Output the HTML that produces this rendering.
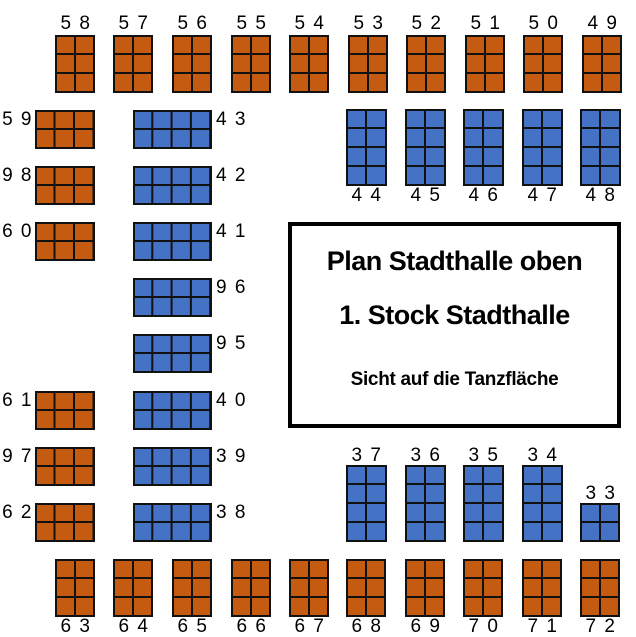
<!DOCTYPE html>
<html><head><meta charset="utf-8"><style>
body{margin:0;width:636px;height:637px;background:#fff;position:relative;overflow:hidden;font-family:"Liberation Sans",sans-serif}
.t{position:absolute;box-sizing:border-box;border:2px solid #111;background-image:linear-gradient(to right,#111 2px,transparent 2px),linear-gradient(to bottom,#111 2px,transparent 2px);background-position:-3px -3px}
.o{background-color:#c55a11}.b{background-color:#4472c4}
.v3{width:40px;height:58px;background-size:20px 19px}
.h3{width:60px;height:39px;background-size:19.5px 19px}
.h4{width:79px;height:39px;background-size:19.3px 19px}
.v4{width:41px;height:77px;background-size:20px 19px}
.s2{width:40px;height:39px;background-size:20px 19px}
.l{position:absolute;font-size:19px;line-height:20px;letter-spacing:1.5px;color:#000;white-space:pre}
.c{width:60px;text-align:center}
.r{width:33px;text-align:right}
#box{position:absolute;left:288px;top:222px;width:333px;height:206px;box-sizing:border-box;border:4px solid #000;text-align:center;font-family:"Liberation Sans",sans-serif;font-weight:bold}
#box div{position:absolute;left:0;right:0}
</style></head><body>
<div class="t o v3" style="left:55px;top:35px"></div><div class="l c" style="left:46px;top:14px">5 8</div>
<div class="t o v3" style="left:113px;top:35px"></div><div class="l c" style="left:104px;top:14px">5 7</div>
<div class="t o v3" style="left:172px;top:35px"></div><div class="l c" style="left:163px;top:14px">5 6</div>
<div class="t o v3" style="left:231px;top:35px"></div><div class="l c" style="left:222px;top:14px">5 5</div>
<div class="t o v3" style="left:289px;top:35px"></div><div class="l c" style="left:280px;top:14px">5 4</div>
<div class="t o v3" style="left:348px;top:35px"></div><div class="l c" style="left:339px;top:14px">5 3</div>
<div class="t o v3" style="left:406px;top:35px"></div><div class="l c" style="left:397px;top:14px">5 2</div>
<div class="t o v3" style="left:465px;top:35px"></div><div class="l c" style="left:456px;top:14px">5 1</div>
<div class="t o v3" style="left:523px;top:35px"></div><div class="l c" style="left:514px;top:14px">5 0</div>
<div class="t o v3" style="left:582px;top:35px"></div><div class="l c" style="left:573px;top:14px">4 9</div>
<div class="t o h3" style="left:35px;top:110px"></div><div class="l r" style="left:0px;top:110px">5 9</div>
<div class="t o h3" style="left:35px;top:166px"></div><div class="l r" style="left:0px;top:166px">9 8</div>
<div class="t o h3" style="left:35px;top:222px"></div><div class="l r" style="left:0px;top:222px">6 0</div>
<div class="t o h3" style="left:35px;top:391px"></div><div class="l r" style="left:0px;top:391px">6 1</div>
<div class="t o h3" style="left:35px;top:447px"></div><div class="l r" style="left:0px;top:447px">9 7</div>
<div class="t o h3" style="left:35px;top:503px"></div><div class="l r" style="left:0px;top:503px">6 2</div>
<div class="t b h4" style="left:133px;top:110px"></div><div class="l" style="left:216px;top:110px">4 3</div>
<div class="t b h4" style="left:133px;top:166px"></div><div class="l" style="left:216px;top:166px">4 2</div>
<div class="t b h4" style="left:133px;top:222px"></div><div class="l" style="left:216px;top:222px">4 1</div>
<div class="t b h4" style="left:133px;top:278px"></div><div class="l" style="left:216px;top:278px">9 6</div>
<div class="t b h4" style="left:133px;top:334px"></div><div class="l" style="left:216px;top:334px">9 5</div>
<div class="t b h4" style="left:133px;top:391px"></div><div class="l" style="left:216px;top:391px">4 0</div>
<div class="t b h4" style="left:133px;top:447px"></div><div class="l" style="left:216px;top:447px">3 9</div>
<div class="t b h4" style="left:133px;top:503px"></div><div class="l" style="left:216px;top:503px">3 8</div>
<div class="t b v4" style="left:346px;top:109px"></div><div class="l c" style="left:337px;top:186px">4 4</div>
<div class="t b v4" style="left:405px;top:109px"></div><div class="l c" style="left:396px;top:186px">4 5</div>
<div class="t b v4" style="left:463px;top:109px"></div><div class="l c" style="left:454px;top:186px">4 6</div>
<div class="t b v4" style="left:522px;top:109px"></div><div class="l c" style="left:513px;top:186px">4 7</div>
<div class="t b v4" style="left:580px;top:109px"></div><div class="l c" style="left:571px;top:186px">4 8</div>
<div id="box">
<div style="top:20px;font-size:27px;letter-spacing:-0.5px">Plan Stadthalle oben</div>
<div style="top:74px;font-size:27px;letter-spacing:-0.5px">1. Stock Stadthalle</div>
<div style="top:143px;font-size:19px;letter-spacing:-0.3px">Sicht auf die Tanzfläche</div>
</div>
<div class="t b v4" style="left:346px;top:465px"></div><div class="l c" style="left:337px;top:446px">3 7</div>
<div class="t b v4" style="left:405px;top:465px"></div><div class="l c" style="left:396px;top:446px">3 6</div>
<div class="t b v4" style="left:463px;top:465px"></div><div class="l c" style="left:454px;top:446px">3 5</div>
<div class="t b v4" style="left:522px;top:465px"></div><div class="l c" style="left:513px;top:446px">3 4</div>
<div class="t b s2" style="left:580px;top:503px"></div><div class="l c" style="left:571px;top:484px">3 3</div>
<div class="t o v3" style="left:55px;top:559px"></div><div class="l c" style="left:46px;top:617px">6 3</div>
<div class="t o v3" style="left:113px;top:559px"></div><div class="l c" style="left:104px;top:617px">6 4</div>
<div class="t o v3" style="left:172px;top:559px"></div><div class="l c" style="left:163px;top:617px">6 5</div>
<div class="t o v3" style="left:231px;top:559px"></div><div class="l c" style="left:222px;top:617px">6 6</div>
<div class="t o v3" style="left:289px;top:559px"></div><div class="l c" style="left:280px;top:617px">6 7</div>
<div class="t o v3" style="left:346px;top:559px"></div><div class="l c" style="left:337px;top:617px">6 8</div>
<div class="t o v3" style="left:405px;top:559px"></div><div class="l c" style="left:396px;top:617px">6 9</div>
<div class="t o v3" style="left:463px;top:559px"></div><div class="l c" style="left:454px;top:617px">7 0</div>
<div class="t o v3" style="left:522px;top:559px"></div><div class="l c" style="left:513px;top:617px">7 1</div>
<div class="t o v3" style="left:580px;top:559px"></div><div class="l c" style="left:571px;top:617px">7 2</div>
</body></html>
